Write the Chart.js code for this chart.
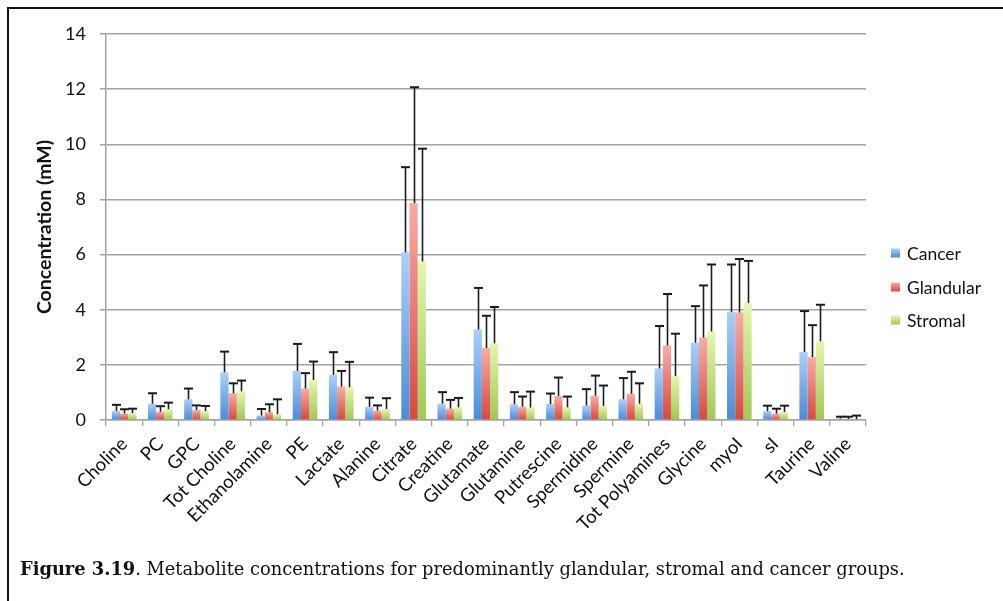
<!DOCTYPE html>
<html>
<head>
<meta charset="utf-8">
<script src="https://cdn.jsdelivr.net/npm/chart.js@4.4.1/dist/chart.umd.min.js"></script>
<style>
  html, body { margin: 0; padding: 0; background: #ffffff; }
  #wrap { position: relative; width: 1003px; height: 601px; overflow: hidden; background: #ffffff; }
  #frame { position: absolute; left: 7px; top: 7px; width: 1010px; height: 610px;
           border-top: 2px solid #111; border-left: 2px solid #111; box-sizing: border-box; pointer-events: none; }
  canvas { position: absolute; left: 0; top: 0; }
</style>
</head>
<body>
<div id="wrap">
  <canvas id="chart" width="1003" height="601"></canvas>
  <div id="frame"></div>
</div>
<script>
// Metabolites measured
const categories = ['Choline', 'PC', 'GPC', 'Tot Choline', 'Ethanolamine', 'PE', 'Lactate',
  'Alanine', 'Citrate', 'Creatine', 'Glutamate', 'Glutamine', 'Putrescine', 'Spermidine',
  'Spermine', 'Tot Polyamines', 'Glycine', 'myoI', 'sI', 'Taurine', 'Valine'];

// Mean concentrations (mM) per tissue group
const cancer    = [0.33, 0.59, 0.75, 1.73, 0.16, 1.78, 1.64, 0.48, 6.08, 0.59, 3.28, 0.57, 0.58, 0.52, 0.75, 1.87, 2.80, 3.92, 0.32, 2.47, 0.05];
const glandular = [0.24, 0.30, 0.36, 0.97, 0.28, 1.14, 1.21, 0.34, 7.87, 0.41, 2.61, 0.48, 0.87, 0.88, 0.95, 2.70, 2.99, 3.90, 0.23, 2.28, 0.04];
const stromal   = [0.25, 0.39, 0.32, 1.04, 0.21, 1.45, 1.19, 0.40, 5.75, 0.46, 2.78, 0.45, 0.46, 0.51, 0.59, 1.59, 3.21, 4.24, 0.29, 2.85, 0.03];

// Standard deviations (upper error bars)
const cancerSd    = [0.22, 0.38, 0.39, 0.75, 0.24, 0.98, 0.82, 0.33, 3.09, 0.42, 1.51, 0.44, 0.38, 0.60, 0.77, 1.54, 1.33, 1.72, 0.20, 1.48, 0.07];
const glandularSd = [0.15, 0.20, 0.17, 0.36, 0.29, 0.56, 0.57, 0.19, 4.20, 0.32, 1.17, 0.37, 0.67, 0.73, 0.80, 1.87, 1.89, 1.94, 0.18, 1.16, 0.08];
const stromalSd   = [0.16, 0.24, 0.19, 0.39, 0.54, 0.67, 0.92, 0.39, 4.09, 0.34, 1.32, 0.58, 0.39, 0.74, 0.74, 1.54, 2.43, 1.53, 0.23, 1.33, 0.13];

// Value axis ticks
const yTicks = [0, 2, 4, 6, 8, 10, 12, 14];

const seriesNames = ['Cancer', 'Glandular', 'Stromal'];
const caption = { bold: 'Figure 3.19', rest: '. Metabolite concentrations for predominantly glandular, stromal and cancer groups.' };

const FONT = 'Lato, "Open Sans", sans-serif';

// Vertical gradient from light top to saturated base for each bar
function barGradient(light, dark) {
  return (ctx) => {
    if (ctx.type !== 'data') return dark;
    const chart = ctx.chart;
    const ys = chart.scales && chart.scales.y;
    if (!ys) return dark;
    const yTop = ys.getPixelForValue(ctx.raw);
    const yBase = ys.getPixelForValue(0);
    if (!isFinite(yTop) || !isFinite(yBase) || Math.abs(yBase - yTop) < 1) return dark;
    const g = chart.ctx.createLinearGradient(0, yTop, 0, yBase);
    g.addColorStop(0, light);
    g.addColorStop(1, dark);
    return g;
  };
}

const palette = [
  { light: '#abcff8', dark: '#4a8bd8' },
  { light: '#f8aca5', dark: '#d8483f' },
  { light: '#e4f6b0', dark: '#a0c854' }
];

const values = [cancer, glandular, stromal];
const errors = [cancerSd, glandularSd, stromalSd];

const datasets = values.map((vals, i) => ({
  label: seriesNames[i],
  data: vals,
  errors: errors[i],
  backgroundColor: barGradient(palette[i].light, palette[i].dark),
  borderWidth: 0,
  categoryPercentage: 0.68,
  barPercentage: 1.0
}));

// Upper error bars with caps, positioned from the bar elements and y scale
const errorBars = {
  id: 'errorBars',
  afterDatasetsDraw(chart) {
    const c = chart.ctx;
    const ys = chart.scales.y;
    c.save();
    c.strokeStyle = '#1b1b1b';
    chart.data.datasets.forEach((ds, di) => {
      const meta = chart.getDatasetMeta(di);
      meta.data.forEach((bar, i) => {
        const top = ys.getPixelForValue(ds.data[i] + ds.errors[i]);
        const x = Math.round(bar.x) + 0.5;
        c.lineWidth = 1.6;
        c.beginPath();
        c.moveTo(x, bar.y);
        c.lineTo(x, top);
        c.stroke();
        c.lineWidth = 2;
        c.beginPath();
        c.moveTo(x - 4.5, top);
        c.lineTo(x + 4.5, top);
        c.stroke();
      });
    });
    c.restore();
  }
};

// Series key on the right of the plot
const seriesKey = {
  id: 'seriesKey',
  afterDraw(chart) {
    const c = chart.ctx;
    const rows = [253, 287, 320];
    c.save();
    c.font = '17.5px ' + FONT;
    c.textBaseline = 'middle';
    c.textAlign = 'left';
    chart.data.datasets.forEach((ds, i) => {
      const y = rows[i];
      const g = c.createLinearGradient(0, y - 4.5, 0, y + 4.5);
      g.addColorStop(0, palette[i].light);
      g.addColorStop(1, palette[i].dark);
      c.fillStyle = g;
      c.fillRect(891, y - 4.5, 9, 9);
      c.fillStyle = '#111';
      c.fillText(ds.label, 907, y + 1);
    });
    c.restore();
  }
};

// Figure caption below the chart, fitted to its line width
const captionPlugin = {
  id: 'caption',
  afterDraw(chart) {
    const c = chart.ctx;
    const serif = '"DejaVu Serif", "Liberation Serif", serif';
    const target = 885;
    c.save();
    c.font = 'bold 20px ' + serif;
    const wb = c.measureText(caption.bold).width;
    c.font = '20px ' + serif;
    const wr = c.measureText(caption.rest).width;
    const size = 20 * target / (wb + wr);
    c.fillStyle = '#111';
    c.textBaseline = 'alphabetic';
    c.textAlign = 'left';
    c.font = 'bold ' + size + 'px ' + serif;
    c.fillText(caption.bold, 20, 575);
    const w1 = c.measureText(caption.bold).width;
    c.font = size + 'px ' + serif;
    c.fillText(caption.rest, 20 + w1, 575);
    c.restore();
  }
};

Chart.defaults.font.family = FONT;
Chart.defaults.color = '#111';

new Chart(document.getElementById('chart'), {
  type: 'bar',
  data: { labels: categories, datasets },
  options: {
    responsive: false,
    devicePixelRatio: 1,
    animation: false,
    layout: { padding: { top: 34, right: 137, left: 0, bottom: 0 } },
    plugins: {
      legend: { display: false },
      tooltip: { enabled: false }
    },
    scales: {
      x: {
        grid: { display: true, drawOnChartArea: false, drawTicks: true, tickLength: 6, color: '#a3a3a3', lineWidth: 1.3 },
        border: { color: '#a3a3a3', width: 1.5 },
        ticks: { minRotation: 45, maxRotation: 45, autoSkip: false, padding: 7, font: { size: 18.5 }, color: '#111' },
        afterFit(scale) { scale.height = 181; }
      },
      y: {
        min: 0,
        max: 14,
        afterBuildTicks(scale) { scale.ticks = yTicks.map(v => ({ value: v })); },
        grid: { color: '#a3a3a3', lineWidth: 1.5, tickLength: 6, drawTicks: true },
        border: { color: '#a3a3a3', width: 1.5 },
        ticks: { padding: 14, font: { size: 18 }, color: '#111' },
        title: { display: true, text: 'Concentration (mM)', font: { size: 19.5, weight: 'bold' }, color: '#111', padding: { top: 33, bottom: 0 } },
        afterFit(scale) { scale.width = 106; }
      }
    }
  },
  plugins: [errorBars, seriesKey, captionPlugin]
});
</script>
</body>
</html>
